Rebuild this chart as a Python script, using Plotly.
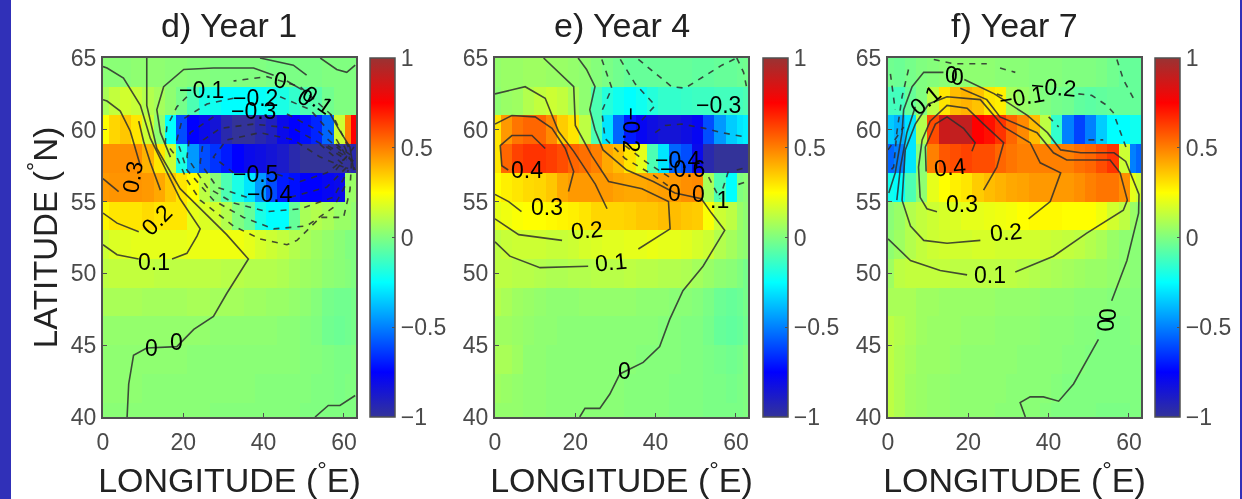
import plotly.graph_objects as go

W, H = 1242, 499
LON_EDGES = [0, 1.4, 4.2, 7, 9.8, 12.6, 15.4, 18.2, 21, 23.8, 26.6, 29.4, 32.2, 35, 37.8, 40.6,
             43.4, 46.2, 49, 51.8, 54.6, 57.4, 60.2, 61.8, 63]
LAT_EDGES = [39, 41, 43, 45, 47, 49, 51, 53, 55, 57, 59, 61, 63, 65]
TITLES = ["d) Year 1", "e) Year 4", "f) Year 7"]
XTICKS = [0, 20, 40, 60]
YTICKS = [40, 45, 50, 55, 60, 65]
CBAR_TICKS = [-1, -0.5, 0, 0.5, 1]
CBAR_TEXT = ["\u22121", "\u22120.5", "0", "0.5", "1"]

# rows run south to north (lat 40, 42 ... 64)
YEAR1_Z = [
 [.02,.02,.02,.02,.02,.02,.02,.02,.02,.02,.01,.01,.01,.01,.01,.01,.01,.01,.0,.0,.0,.0,.0,.0],
 [.03,.03,.03,.03,.02,.02,.02,.02,.02,.02,.02,.02,.02,.02,.01,.01,.01,.01,.01,.0,.0,-.01,.0,.0],
 [.03,.03,.03,.03,.03,.03,.03,.03,.02,.02,.02,.02,.02,.02,.02,.02,.02,.02,.01,.01,.0,-.01,-.01,.0],
 [.04,.04,.04,.04,.04,.04,.04,.04,.04,.04,.03,.03,.03,.03,.03,.03,.02,.02,.01,.0,-.03,-.04,-.03,-.02],
 [.08,.08,.08,.08,.07,.07,.07,.07,.08,.08,.07,.07,.07,.06,.06,.05,.05,.04,.03,.01,-.02,-.03,-.03,-.02],
 [.12,.13,.13,.13,.13,.12,.12,.12,.12,.12,.12,.11,.11,.1,.1,.1,.09,.07,.06,.05,.03,.02,.01,.0],
 [.15,.18,.19,.2,.2,.2,.2,.2,.21,.21,.22,.22,.22,.2,.17,.15,.13,.1,.08,.06,.04,.02,.0,.0],
 [.27,.3,.3,.3,.32,.3,.3,.3,.2,.18,.16,.1,0,-.05,-.2,-.25,-.25,-.05,.08,.1,.08,.05,.05,.03],
 [.45,.46,.46,.46,.45,.42,.36,.3,.25,.12,.02,-.1,-.2,-.3,-.45,-.6,-.7,-.72,-.75,-.75,-.78,-.8,.05,.05],
 [.47,.47,.47,.47,.4,.3,.15,-.2,-.45,-.6,-.65,-.7,-.75,-.8,-.82,-.85,-.88,-.95,-1,-1,-1,-1,-1,-.95],
 [.25,.33,.36,.3,.15,.03,-.25,-.6,-.75,-.8,-.85,-.95,-1,-1,-.95,-.9,-.8,-.75,-.72,-.68,-.55,.15,.5,.75],
 [.08,.13,.16,.14,.1,.07,.03,-.02,-.1,-.2,-.22,-.25,-.25,-.25,-.24,-.22,-.2,-.15,-.1,-.08,-.03,0,0,0],
 [.02,.02,.02,.03,.03,.03,.02,.02,.01,.01,0,0,0,0,0,-.01,-.01,-.01,-.01,-.01,0,0,0,0],
]
YEAR4_Z = [
 [.04,.04,.04,.03,.03,.02,.02,.02,.02,.02,.02,.02,.01,.01,.01,.01,.0,.0,.0,-.01,-.01,-.01,-.01,.0],
 [.06,.05,.04,.03,.03,.02,.02,.02,.02,.02,.02,.02,.01,.01,.01,.01,.0,.0,.0,-.01,-.01,-.02,-.01,.0],
 [.08,.08,.06,.03,.03,.02,.02,.02,.02,.02,.02,.02,.02,.01,.01,.01,.01,.0,.0,-.01,-.02,-.03,-.02,.0],
 [.06,.06,.05,.04,.03,.03,.02,.02,.02,.02,.02,.02,.02,.02,.02,.01,.01,.0,.0,-.02,-.05,-.06,-.05,-.03],
 [.1,.08,.06,.05,.04,.03,.03,.03,.04,.04,.04,.04,.04,.03,.03,.03,.02,.02,.01,-.01,-.04,-.05,-.04,-.02],
 [.12,.12,.11,.11,.1,.09,.09,.1,.1,.11,.11,.11,.12,.11,.11,.1,.1,.09,.07,.05,.03,.02,.0,-.02],
 [.12,.14,.15,.15,.15,.14,.14,.15,.17,.18,.19,.19,.2,.2,.21,.2,.2,.19,.17,.15,.1,.07,.04,.03],
 [.2,.22,.24,.25,.25,.26,.27,.28,.3,.33,.33,.33,.34,.36,.36,.38,.38,.36,.35,.24,.15,.12,.05,.03],
 [.25,.28,.3,.32,.33,.36,.42,.45,.45,.45,.45,.43,.42,.42,.43,.44,.45,.47,.48,.08,-.1,-.25,.0,.02],
 [.3,.55,.62,.65,.65,.63,.6,.55,.53,.5,.42,.38,.3,.2,-.1,-.3,-.55,-.6,-.8,-.95,-1,-1,-1,-1],
 [.3,.45,.52,.55,.55,.48,.35,.3,.12,-.1,-.3,-.55,-.7,-.78,-.82,-.85,-.85,-.82,-.78,-.6,-.45,-.35,-.3,-.28],
 [.03,.05,.06,.1,.13,.15,.13,.08,.03,-.1,-.18,-.22,-.25,-.22,-.18,-.15,-.15,-.14,-.13,-.13,-.12,-.12,-.12,-.1],
 [.04,.05,.05,.06,.06,.05,.05,.04,.03,.01,-.01,-.03,-.05,-.05,-.05,-.05,-.05,-.05,-.06,-.06,-.05,-.05,-.04,-.03],
]
YEAR7_Z = [
 [.12,.09,.06,.05,.04,.04,.03,.03,.03,.03,.02,.02,.02,.02,.01,.0,.0,.0,.0,-.01,-.01,-.01,.0,.0],
 [.12,.09,.06,.05,.04,.04,.03,.03,.03,.03,.03,.02,.02,.02,.02,.01,.0,.0,.0,.0,.0,.0,.0,.0],
 [.12,.09,.07,.05,.05,.05,.04,.03,.03,.03,.03,.03,.02,.02,.02,.02,.01,.01,.0,.0,.0,.0,.0,.0],
 [.12,.1,.08,.06,.05,.05,.05,.04,.04,.04,.03,.03,.03,.03,.02,.02,.02,.01,.01,.0,.0,.0,.01,.01],
 [.08,.08,.08,.06,.06,.05,.05,.05,.05,.05,.04,.04,.04,.04,.03,.03,.03,.02,.02,.02,.01,.01,.01,.01],
 [.06,.12,.13,.13,.13,.13,.12,.12,.12,.12,.12,.12,.11,.1,.09,.08,.07,.06,.05,.05,.04,.03,.02,.02],
 [.03,.06,.1,.13,.15,.16,.16,.16,.17,.17,.16,.16,.16,.16,.15,.14,.13,.12,.1,.08,.05,.03,.02,.02],
 [.02,.05,.1,.13,.15,.17,.18,.2,.2,.21,.22,.23,.25,.26,.26,.26,.25,.25,.25,.22,.16,.12,.05,.03],
 [-.22,-.25,-.1,.03,.2,.25,.28,.3,.35,.38,.4,.42,.43,.45,.45,.45,.45,.47,.5,.52,.52,.47,.2,.15],
 [-.55,-.5,-.3,.02,.5,.58,.6,.62,.6,.6,.55,.52,.5,.5,.5,.5,.5,.53,.55,.6,.65,.15,-.5,-.55],
 [-.35,-.4,-.3,.1,.6,.88,.9,.9,.75,.72,.65,.55,.48,.38,.12,-.15,-.5,-.62,-.5,-.35,-.25,-.25,-.22,-.22],
 [-.12,-.12,-.05,0,.12,.3,.38,.4,.37,.3,.28,.08,.05,.03,0,-.02,-.03,-.06,-.07,-.06,-.05,-.05,-.05,-.05],
 [-.03,-.04,-.02,0,.01,.02,.03,.03,.03,.03,.02,.02,.02,.01,.01,.01,0,0,0,-.01,-.03,-.05,-.05,-.05],
]

# contour lines as [longitude, latitude] vertices
YEAR1_SOLID = [
 [[6,40],[6.4,42.3],[7.6,44.3],[10.9,44.8],[18.4,44.9],[22.6,46.1],[27.5,47],[30.8,48.6],[36.2,51],[30.8,52.7],[25,54.3],[19.2,55.9],[13.4,58.7],[10.9,61.7],[10.9,65]],
 [[0,52],[3.5,51.3],[8.9,51]],
 [[17.2,51],[20.9,51.4],[23.4,52.6],[24.2,53.1],[19.2,55.2],[15.1,57.5],[11.8,59.4],[9.3,61.7],[5.1,63.6],[1,64.3],[0,64.4]],
 [[0,54.2],[3.5,53.5],[8.9,52.9]],
 [[14.3,55.8],[11.8,57.7],[10.1,59.2],[8.9,60.6]],
 [[0,56.6],[3.9,55.7]],
 [[9.3,57.5],[6.8,59.9],[4.3,61.3],[1,62],[0,62.1]],
 [[16.8,58.1],[14.3,59.8],[13.4,61.4],[15.1,63],[20.1,64.2],[27.5,64.3],[37.5,64.3],[42.5,63.8]],
 [[45.8,63.4],[49.5,62.8]],
 [[56.6,61.1],[58.6,60.1],[61.5,58.8],[62.4,57.2]],
 [[39.1,65],[47.4,64.5],[50.7,63.8]],
 [[54.1,65],[58.2,64.2],[60.7,64],[62.8,64.5]],
 [[52.8,40],[56.1,40.8],[59,40.8],[62.8,41.5]],
]
YEAR1_DASHED = [
 [[61.1,58.8],[57.4,60.9],[49.1,63],[40.8,63.7],[32.5,63.4]],
 [[20.9,62.3],[18.4,61.6],[15.9,60.2],[15.5,59.1],[18.4,58.1],[20.9,56.5],[24.2,55.1],[28.4,54.2],[32.5,53.3],[39.1,52.4],[45.8,52],[48.3,52.3],[54.1,53.9],[59.9,53.9],[61.5,55.8],[61.9,57.9]],
 [[32.5,62.2],[25.9,61.8],[19.7,60.7],[18.4,59.3],[20.9,57.2],[27.5,55.1],[35,53.9],[42.5,53.1],[50.7,53.3],[57.4,54.6],[60.7,56.3]],
 [[44.1,62.3],[51.6,61.4],[58.2,59.3],[60.7,58.1]],
 [[27.5,60.9],[21.7,59.8],[20.9,58.1],[25.9,56],[32.5,54.9],[40.8,54.3],[49.1,54.5],[57.4,55.3],[61.1,57.2]],
 [[45.8,61.1],[53.2,60],[59.9,58.4]],
 [[35.8,55.3],[28.4,56],[24.2,57.7],[25,59.3],[29.2,60.1],[37.5,60.4],[47.4,60.1],[55.7,58.8],[60.7,57.9]],
 [[46.6,55.3],[55.7,56],[60.7,57.4]],
 [[32.5,57],[27.5,58.1],[30.8,59.3],[39.1,59.8],[47.4,59.3],[54.1,58.1],[59.9,57.4]],
 [[43.3,56.9],[49.1,56.4],[55.7,57],[60.7,58.1]],
 [[54,59],[61,57.3]],
 [[56,58.9],[62.5,57.8]],
 [[58,59],[62.8,58]],
 [[60,58.9],[62.8,57.2]],
 [[58,57.2],[62.5,58.8]],
]
YEAR1_LABELS = [("0.1",12.8,50.8,0),("0.2",13.4,53.7,-45),("0.3",7.4,56.7,-80),("0",12.2,44.8,0),("0",18.4,45.2,0),
 ("\u22120.1",24.6,62.8,0),("\u22120.2",37.9,62.2,0),("\u22120.3",37.5,61.3,0),("0",44.3,63.5,10),("0",50.3,62.3,30),
 ("0.1",53.6,62.1,35),("\u22120.5",37.9,56.9,0),("\u22120.4",41.6,55.5,0)]

YEAR4_SOLID = [
 [[21.1,40],[22.4,40.6],[26.1,40.6],[28.6,41.6],[31.1,43],[36.9,43.8],[41,44.9],[43.5,46.8],[46.8,48.8],[51.8,50.5],[57.2,53],[53.9,54.2],[51.4,55.2],[44.8,55.6],[39.4,56.4],[32.8,57.2],[26.9,58.6],[24.9,60],[23.6,61.4],[24.9,63],[22.8,64.2],[20.7,65]],
 [[0,52.2],[3.7,51.2],[11.2,50.4],[23.2,50.5]],
 [[35.7,51.7],[43.6,53.1],[43.2,55],[36.6,55.9],[28.3,56.4],[24.1,58.2],[20,60.3],[19.6,63],[12.1,65]],
 [[0,53.8],[5.9,52.7],[16.7,52.3]],
 [[27.9,54.5],[25,56.2],[19.6,58.5],[15.8,59.9],[12.5,62.2],[7.5,63],[0,62.5]],
 [[0,55.5],[3.4,55],[6.6,54.3]],
 [[18.3,55.7],[19.6,57.1],[17.5,58.7],[14.2,60.1],[10,60.9],[4.2,61],[0,60.4]],
 [[3.3,57.2],[1.7,57.5],[1.3,58.9],[4.2,59.6],[9.2,59.6],[12.5,58.7]],
]
YEAR4_DASHED = [
 [[26.6,64.9],[29.1,62.9],[26.6,61.3],[27.4,59.4],[32.4,58],[39.1,56.9],[43.6,56]],
 [[31.2,64.9],[34.9,63.2],[39.9,61.7],[35.7,60.4]],
 [[32.4,58.9],[37.4,57.8],[44,56.6]],
 [[35.7,64.9],[44,63],[47.3,62.9],[56.5,64.5],[60.2,65]],
 [[60.2,65],[61.9,64],[62.7,62.9]],
 [[39.9,59.8],[42.4,60.3],[46.5,60.4],[52.3,60.1],[56.5,59.8],[62.3,59.5]],
 [[53.2,56.7],[56,55.2]],
 [[60.2,57.2],[62.9,57.4]],
 [[60.6,56.2],[62.9,56.4]],
 [[58.1,57.1],[56.5,55.7]],
]
YEAR4_LABELS = [("0.4",8,57.2,0),("0.3",12.9,54.6,0),("0.2",22.8,53,-5),("0.1",29,50.8,-5),("0",32.2,43.2,0),
 ("0",44.8,55.6,0),("0",50.6,55.5,0),(".1",56,55.1,0),("\u22120.3",55.6,61.7,0),("\u22120.2",34,60,90),
 ("\u22120.4",45.6,57.9,0),("\u22120.6",46.8,57.3,0)]

YEAR7_SOLID = [
 [[19,63.5],[26.5,62.5],[34.7,61],[39.7,59.8],[43,58.6],[48,58.4],[56.3,58.4],[59.2,57.8],[62.5,55.5],[62.4,54.2],[59.5,50.9],[55.7,48.1]],
 [[52.4,45.4],[46.2,42.3],[42.5,41.1],[38.7,41.4],[35.4,41.4],[32.9,41],[34.2,40]],
 [[13.8,64],[8.9,64],[6,63],[3.9,61.4],[3.5,59.8],[1.8,57],[0.2,55.6]],
 [[0,52.4],[5.6,50.9],[13,50.2],[19.7,49.9]],
 [[31.7,50.1],[41.2,51.2],[49.5,52.8],[58.6,54.4],[59.6,55.1],[57.8,57],[55.3,57.9],[44.5,57.9],[41.2,58.4],[37.1,59.8],[27.9,60.9],[24.6,62.1],[18,62.9]],
 [[6.8,61.6],[4.7,59.8],[3.1,57.4],[2.2,55.1]],
 [[23,52.3],[14.7,52.1],[8.9,52.3],[5.6,53.3],[3.5,55.1],[4.3,58.6],[6.8,60.4],[10.1,61.8],[14.7,62.3],[23,62.1],[28.8,60.2],[35.4,59.1],[37.9,57.7],[43,57],[40.4,55],[35,53.8]],
 [[12.2,54.3],[9.7,54.5],[8,55.3],[7.6,57.4],[8.5,59.3],[10.5,60.6],[14.7,61.7],[19.7,61.5],[23.8,60.4],[28.8,59.1],[27.1,57.4],[23.8,55.8]],
 [[9.5,57.1],[9.3,58.8],[11.8,60.4],[14.7,60.9],[18.8,60.1],[21.7,59.1],[20.9,58.5]],
]
YEAR7_DASHED = [
 [[5.1,64.2],[3.5,62.3],[2.2,59.8],[1.4,57.4],[0,57]],
 [[0,58.6],[3.9,60.2]],
 [[0.6,63.9],[1.8,61.4]],
 [[11.4,64.9],[16.3,64.6],[24.6,64.6]],
 [[27.9,64.3],[31.7,64]],
 [[27.1,62.5],[29,62.3]],
 [[47.4,62.5],[50.7,62.4],[54.5,61.7],[56.1,61.2],[59.5,58.6]],
 [[57,64.9],[58.6,63.5],[61.1,62.2]],
 [[40,60.9],[42.5,60.2]],
 [[49.9,59.3],[53.6,59.3]],
]
YEAR7_LABELS = [("0",15.9,63.8,0),("0",17.2,63.7,0),("0.1",9.3,62.1,-40),("\u22120.1",33.3,62.3,-10),("\u22120.2",41.2,63,5),
 ("0.4",15.5,57.4,-5),("0.3",18.4,54.8,0),("0.2",29.4,52.9,-5),("0.1",25.3,49.9,0),("0",54.5,47.1,90),("0",54.1,46.4,90)]

Z = [YEAR1_Z, YEAR4_Z, YEAR7_Z]
SOLID = [YEAR1_SOLID, YEAR4_SOLID, YEAR7_SOLID]
DASHED = [YEAR1_DASHED, YEAR4_DASHED, YEAR7_DASHED]
LABELS = [YEAR1_LABELS, YEAR4_LABELS, YEAR7_LABELS]

PLOT_LEFT = [103, 495, 888]
PLOT_W = 253
CB_LEFT = [370, 763, 1155]
TOP, BOTTOM = 58, 417
FONT = "Liberation Sans"
TICK = "#4a4a4a"
AXIS = "#505050"
LINE = "rgba(45,45,45,0.85)"
COLORSCALE = [[0, "#333399"], [0.125, "#0000ff"], [0.375, "#00ffff"], [0.5, "#80ff80"],
              [0.625, "#ffff00"], [0.875, "#ff0000"], [1, "#993333"]]

def joined(lines):
    xs, ys = [], []
    for line in lines:
        xs += [p[0] for p in line] + [None]
        ys += [p[1] for p in line] + [None]
    return xs, ys

fig = go.Figure()
annotations = []
for i in range(3):
    s = "" if i == 0 else str(i + 1)
    xa, ya = "x" + s, "y" + s
    fig.add_trace(go.Heatmap(
        x=LON_EDGES, y=LAT_EDGES, z=Z[i], zmin=-1, zmax=1, colorscale=COLORSCALE, xaxis=xa, yaxis=ya,
        zsmooth=False, showscale=True, hoverinfo="skip",
        colorbar=dict(x=CB_LEFT[i] / W, xanchor="left", xref="paper", y=(H - BOTTOM) / H, yanchor="bottom", yref="paper",
                      len=(BOTTOM - TOP) / H, lenmode="fraction", thickness=25, thicknessmode="pixels",
                      xpad=0, ypad=0, outlinecolor=AXIS, outlinewidth=1.5, tickmode="array",
                      tickvals=CBAR_TICKS, ticktext=CBAR_TEXT, ticks="inside", ticklen=3, tickcolor=AXIS,
                      tickfont=dict(family=FONT, size=23, color=TICK))))
    for lines, dash in ((SOLID[i], "solid"), (DASHED[i], "6px,6px")):
        xs, ys = joined(lines)
        fig.add_trace(go.Scatter(x=xs, y=ys, mode="lines", xaxis=xa, yaxis=ya, showlegend=False, hoverinfo="skip",
                                 line=dict(color=LINE, width=1.6, dash=dash)))
    for text, lon, lat, angle in LABELS[i]:
        annotations.append(dict(text=text, x=lon, y=lat, xref=xa, yref=ya, xanchor="center", yanchor="middle",
                                showarrow=False, textangle=angle,
                                font=dict(family=FONT, size=23, color="#000000")))
    dom = [PLOT_LEFT[i] / W, (PLOT_LEFT[i] + PLOT_W) / W]
    ydom = [(H - BOTTOM) / H, (H - TOP) / H]
    xkw = dict(domain=dom, range=[0, 63], tickmode="array", tickvals=XTICKS, ticks="inside", ticklen=4, tickcolor=AXIS,
               showgrid=False, zeroline=False, showline=True, mirror=True, linecolor=AXIS, linewidth=2,
               tickfont=dict(family=FONT, size=23, color=TICK), anchor=ya, layer="above traces", ticklabelstandoff=3,
               title=dict(text="LONGITUDE (<sup>\u00b0</sup>E)", font=dict(family=FONT, size=34, color="#222222"), standoff=15))
    ykw = dict(domain=ydom, range=[40, 65], tickmode="array", tickvals=YTICKS, ticks="inside", ticklen=4, tickcolor=AXIS,
               showgrid=False, zeroline=False, showline=True, mirror=True, linecolor=AXIS, linewidth=2,
               tickfont=dict(family=FONT, size=23, color=TICK), anchor=xa, layer="above traces")
    if i == 0:
        ykw["title"] = dict(text="LATITUDE (<sup>\u00b0</sup>N)", font=dict(family=FONT, size=33, color="#222222"), standoff=3)
    fig.update_layout(**{"xaxis" + s: xkw, "yaxis" + s: ykw})
    annotations.append(dict(text=TITLES[i], x=(PLOT_LEFT[i] + PLOT_W / 2) / W, y=1 - 25 / H, xref="paper", yref="paper",
                            xanchor="center", yanchor="middle", showarrow=False,
                            font=dict(family=FONT, size=34, color="#222222")))

fig.update_layout(
    width=W, height=H, margin=dict(l=0, r=0, t=0, b=0, autoexpand=False), paper_bgcolor="#ffffff", plot_bgcolor="#ffffff",
    showlegend=False, annotations=annotations,
    shapes=[dict(type="rect", xref="paper", yref="paper", x0=0, x1=11 / W, y0=0, y1=1, fillcolor="#3030b8", line_width=0),
            dict(type="rect", xref="paper", yref="paper", x0=1240 / W, x1=1, y0=0, y1=1, fillcolor="#3030b8", line_width=0)])
fig.write_html("out.html", config=dict(displayModeBar=False),
               post_script="document.body.style.margin='0';document.body.style.filter='blur(0.5px)';")
